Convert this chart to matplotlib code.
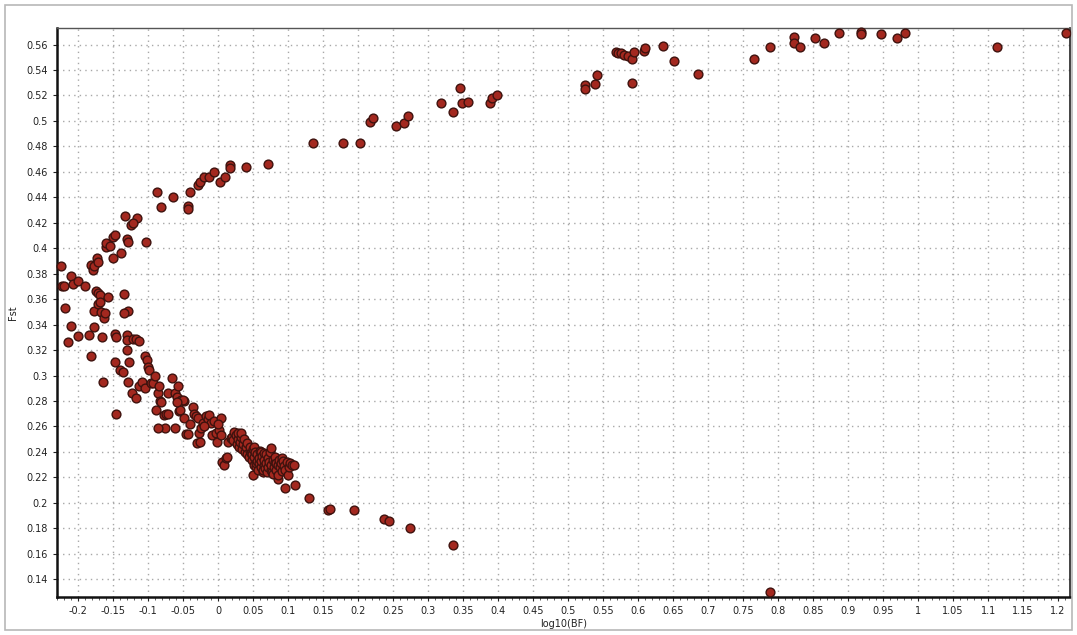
import numpy as np
import matplotlib
matplotlib.use("Agg")
import matplotlib.pyplot as plt
from matplotlib.ticker import MultipleLocator, FuncFormatter
from matplotlib.patches import Rectangle

# upper branch (rising arc)
up_x = [-0.133, -0.116, -0.087, -0.082, -0.064, -0.043, -0.043, -0.040, -0.029, -0.026,
        -0.020, -0.013, -0.006, 0.003, 0.010, 0.017, 0.017, 0.040, 0.071,
        0.135, 0.178, 0.203, 0.217, 0.221, 0.254, 0.265, 0.271, 0.319, 0.335, 0.345,
        0.349, 0.357, 0.388, 0.392, 0.398,
        0.524, 0.524, 0.539, 0.542, 0.568, 0.572, 0.576, 0.580, 0.585, 0.592, 0.594,
        0.592, 0.609, 0.610, 0.636, 0.651, 0.686,
        0.765, 0.789, 0.823, 0.823, 0.831, 0.853, 0.865, 0.887, 0.919, 0.919, 0.947,
        0.970, 0.982, 1.113, 1.211]
up_y = [0.425, 0.424, 0.444, 0.432, 0.440, 0.433, 0.431, 0.444, 0.450, 0.452,
        0.456, 0.456, 0.460, 0.452, 0.456, 0.465, 0.463, 0.464, 0.466,
        0.483, 0.483, 0.483, 0.499, 0.502, 0.496, 0.498, 0.504, 0.514, 0.507, 0.526,
        0.514, 0.515, 0.514, 0.518, 0.520,
        0.528, 0.525, 0.529, 0.536, 0.554, 0.553, 0.553, 0.552, 0.551, 0.549, 0.554,
        0.530, 0.555, 0.557, 0.559, 0.547, 0.537,
        0.549, 0.558, 0.566, 0.561, 0.558, 0.565, 0.561, 0.569, 0.570, 0.568, 0.568,
        0.565, 0.569, 0.558, 0.569]

# left scatter (x < -0.08)
left_x = [-0.224, -0.223, -0.220, -0.219, -0.214, -0.210, -0.210, -0.207, -0.200, -0.200,
          -0.190, -0.184, -0.181, -0.181, -0.179, -0.177, -0.177, -0.177, -0.173, -0.172,
          -0.174, -0.171, -0.168, -0.171, -0.168, -0.167, -0.163, -0.161, -0.166, -0.164,
          -0.160, -0.160, -0.154, -0.150, -0.147, -0.157, -0.150, -0.147, -0.146, -0.147,
          -0.146, -0.139, -0.140, -0.136, -0.134, -0.130, -0.128, -0.130, -0.130, -0.130,
          -0.129, -0.129, -0.134, -0.127, -0.124, -0.121, -0.123, -0.117, -0.122, -0.117,
          -0.113, -0.113, -0.108, -0.104, -0.103, -0.104, -0.102, -0.100, -0.099, -0.096,
          -0.093, -0.090, -0.086, -0.083, -0.089, -0.082, -0.084]
left_y = [0.386, 0.370, 0.370, 0.353, 0.326, 0.339, 0.378, 0.372, 0.374, 0.331,
          0.370, 0.332, 0.315, 0.387, 0.383, 0.386, 0.351, 0.338, 0.392, 0.389,
          0.366, 0.365, 0.363, 0.356, 0.358, 0.350, 0.345, 0.349, 0.330, 0.295,
          0.401, 0.404, 0.402, 0.409, 0.410, 0.362, 0.392, 0.333, 0.330, 0.311,
          0.270, 0.396, 0.304, 0.303, 0.364, 0.407, 0.405, 0.332, 0.328, 0.320,
          0.295, 0.351, 0.349, 0.311, 0.418, 0.420, 0.286, 0.282, 0.329, 0.329,
          0.327, 0.292, 0.295, 0.290, 0.405, 0.315, 0.312, 0.307, 0.304, 0.294,
          0.294, 0.300, 0.286, 0.280, 0.273, 0.279, 0.292]

# middle band (-0.08 .. 0.02)
mid_x = [-0.077, -0.074, -0.072, -0.076, -0.086, -0.062, -0.066, -0.071, -0.061, -0.059,
         -0.057, -0.056, -0.053, -0.049, -0.046, -0.043, -0.050, -0.054, -0.049, -0.059,
         -0.036, -0.034, -0.031, -0.029, -0.030, -0.026, -0.027, -0.024, -0.022, -0.017,
         -0.014, -0.013, -0.010, -0.006, -0.009, -0.003, -0.002, 0.001, 0.004, 0.006,
         0.008, 0.011, 0.014, 0.018, 0.013, -0.040, -0.020, 0.000, 0.004]
mid_y = [0.269, 0.270, 0.270, 0.259, 0.259, 0.259, 0.298, 0.286, 0.286, 0.283,
         0.292, 0.272, 0.281, 0.280, 0.254, 0.254, 0.281, 0.273, 0.267, 0.279,
         0.275, 0.270, 0.268, 0.267, 0.247, 0.248, 0.255, 0.259, 0.263, 0.268,
         0.266, 0.269, 0.263, 0.264, 0.253, 0.255, 0.248, 0.257, 0.267, 0.232,
         0.230, 0.235, 0.248, 0.251, 0.236, 0.262, 0.260, 0.262, 0.253]

# dense band (0.02 .. 0.11)
dense_x = [0.020, 0.022, 0.023, 0.025, 0.027, 0.028, 0.028, 0.030, 0.031, 0.033, 0.033, 0.034,
           0.036, 0.037, 0.038, 0.040, 0.041, 0.042, 0.044, 0.045, 0.046, 0.047, 0.048,
           0.049, 0.050, 0.050, 0.051, 0.051, 0.052, 0.053, 0.054, 0.054, 0.055, 0.056,
           0.057, 0.058, 0.059, 0.060, 0.061, 0.061, 0.062, 0.063, 0.064, 0.064, 0.065,
           0.065, 0.066, 0.067, 0.068, 0.069, 0.070, 0.071, 0.072, 0.073, 0.074, 0.075,
           0.075, 0.076, 0.077, 0.078, 0.079, 0.080, 0.081, 0.082, 0.083, 0.083, 0.085,
           0.085, 0.086, 0.087, 0.088, 0.090, 0.091, 0.092, 0.093, 0.094, 0.095, 0.096,
           0.098, 0.100, 0.101, 0.103, 0.105, 0.108, 0.110]
dense_y = [0.252, 0.249, 0.256, 0.253, 0.246, 0.250, 0.255, 0.244, 0.248, 0.252, 0.255, 0.242,
           0.246, 0.250, 0.240, 0.244, 0.238, 0.247, 0.236, 0.241, 0.244, 0.239, 0.234,
           0.238, 0.242, 0.222, 0.230, 0.244, 0.236, 0.240, 0.228, 0.231, 0.233, 0.238,
           0.226, 0.231, 0.235, 0.241, 0.228, 0.240, 0.233, 0.237, 0.224, 0.226, 0.230,
           0.239, 0.234, 0.227, 0.238, 0.231, 0.224, 0.235, 0.228, 0.232, 0.240, 0.226,
           0.243, 0.230, 0.224, 0.234, 0.223, 0.228, 0.232, 0.236, 0.226, 0.231, 0.230,
           0.219, 0.222, 0.234, 0.228, 0.231, 0.225, 0.235, 0.233, 0.229, 0.212, 0.226,
           0.232, 0.222, 0.228, 0.231, 0.230, 0.230, 0.214]

# lower tail
tail_x = [0.130, 0.157, 0.160, 0.194, 0.237, 0.244, 0.274, 0.335, 0.789]
tail_y = [0.204, 0.194, 0.195, 0.194, 0.187, 0.186, 0.180, 0.167, 0.130]

xs = np.array(up_x + left_x + mid_x + dense_x + tail_x)
ys = np.array(up_y + left_y + mid_y + dense_y + tail_y)

plt.rcParams['font.family'] = ['DejaVu Sans']

fig = plt.figure(figsize=(10.77, 6.35), dpi=100)
fig.patches.append(Rectangle((5/1077, 5/635), 1067/1077, 625/635, transform=fig.transFigure,
                             fill=False, edgecolor='#b8b8b8', linewidth=1.2))
ax = fig.add_axes([57/1077, 38/635, 1013/1077, 569/635])

ax.scatter(xs, ys, s=40, c='#a3281f', edgecolors='#3e120e', linewidths=1.0, zorder=3, clip_on=False)

ax.set_xlim(-0.23, 1.217)
ax.set_ylim(0.126, 0.573)
ax.xaxis.set_major_locator(MultipleLocator(0.05))
ax.xaxis.set_minor_locator(MultipleLocator(0.01))
ax.yaxis.set_major_locator(MultipleLocator(0.02))
fmt = FuncFormatter(lambda v, p: ('%g' % round(v, 3)))
ax.xaxis.set_major_formatter(fmt)
ax.yaxis.set_major_formatter(fmt)

ax.grid(True, which='major', color='#a8a8a8', linestyle=(0, (1.0, 3.0)), linewidth=1.0)
ax.set_axisbelow(True)

ax.tick_params(which='major', labelsize=7, colors='#222222', length=3, width=0.8, direction='out')
ax.tick_params(which='minor', length=2, width=0.6, color='#444444', direction='out')
ax.tick_params(axis='y', which='minor', left=False)

for side in ['left', 'bottom']:
    ax.spines[side].set_linewidth(1.8)
    ax.spines[side].set_color('#111111')
ax.spines['right'].set_linewidth(1.2)
ax.spines['right'].set_color('#222222')
ax.spines['top'].set_linewidth(1.0)
ax.spines['top'].set_color('#555555')

ax.set_xlabel('log10(BF)', fontsize=7, color='#222222', labelpad=2)
ax.set_ylabel('Fst', fontsize=7, color='#222222', labelpad=6)

fig.savefig('out.png', dpi=100)
